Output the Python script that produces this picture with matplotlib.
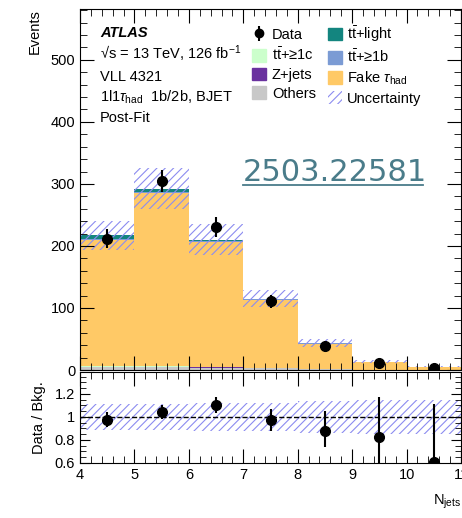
import numpy as np
import matplotlib
matplotlib.use('Agg')
import matplotlib.pyplot as plt
from matplotlib.patches import Patch
from matplotlib.ticker import MultipleLocator

plt.rcParams['font.family'] = ['Liberation Sans', 'DejaVu Sans']
plt.rcParams['mathtext.fontset'] = 'custom'
plt.rcParams['mathtext.rm'] = 'Liberation Sans'
plt.rcParams['mathtext.it'] = 'Liberation Sans:italic'
plt.rcParams['mathtext.bf'] = 'Liberation Sans:bold'
plt.rcParams['hatch.linewidth'] = 0.8

# N_jets bins
edges = [4, 5, 6, 7, 8, 9, 10, 11]
centers = [4.5, 5.5, 6.5, 7.5, 8.5, 9.5, 10.5]

# post-fit background stack (bottom -> top)
others = [5, 5, 4, 3, 1.5, 0.6, 0.3]
zjets = [0.5, 0.5, 0.4, 0.2, 0.1, 0.05, 0.02]
tt_1c = [0.5, 0.5, 0.3, 0.2, 0.1, 0.05, 0.02]
fake_tau = [204, 279, 201.5, 109.5, 41, 12.4, 4.5]
tt_1b = [1.5, 2.5, 1.3, 0.8, 0.3, 0.1, 0.05]
tt_light = [5.5, 5, 2.5, 1.3, 0.5, 0.3, 0.1]
bkg_unc = [24, 33, 25, 14, 6, 2, 0.8]

# data
data = [212, 305, 230, 111, 38, 11, 3]
data_err = [15, 18, 16, 10.5, 6, 3.5, 1.8]

# ratio panel
ratio = [0.975, 1.045, 1.10, 0.97, 0.88, 0.83, 0.61]
ratio_lo = [0.06, 0.06, 0.07, 0.09, 0.14, 0.30, 0.50]
ratio_hi = [0.07, 0.06, 0.07, 0.10, 0.17, 0.34, 0.50]
ratio_unc = [0.11, 0.11, 0.12, 0.12, 0.14, 0.15, 0.15]

tt = r'$\mathrm{t\bar{t}}$'
names = ['Others', 'Z+jets', tt + '+\u22651c', r'Fake $\tau_{\mathrm{had}}$',
         tt + '+\u22651b', tt + '+light']
colors = ['#c8c8c8', '#6a329f', '#ccffcc', '#ffc966', '#7b9bd4', '#13857f']
hatch_col = '#8c8cf0'

W, H = 462, 518
fig = plt.figure(figsize=(W / 100, H / 100), dpi=100)
ax = fig.add_axes([80 / W, 1 - 370 / H, 381 / W, 361 / H])
axr = fig.add_axes([80 / W, 1 - 463 / H, 381 / W, 91 / H])

comps = [others, zjets, tt_1c, fake_tau, tt_1b, tt_light]
ax.hist([centers] * len(comps), bins=edges, weights=comps, stacked=True,
        histtype='stepfilled', color=colors, linewidth=0)
total = np.sum(comps, axis=0)
ax.bar(centers, 2 * np.array(bkg_unc), bottom=total - np.array(bkg_unc), width=1,
       fill=False, hatch='////', edgecolor=hatch_col, linewidth=0)
ax.errorbar(centers, data, yerr=data_err, fmt='o', color='black', ms=7,
            elinewidth=1.5, capsize=0)

ax.set_xlim(4, 11)
ax.set_ylim(0, 582)
ax.set_ylabel('Events', loc='top', fontsize=10.5, labelpad=6)
ax.tick_params(labelbottom=False)

# ratio
axr.bar(centers, 2 * np.array(ratio_unc), bottom=1 - np.array(ratio_unc), width=1,
        fill=False, hatch='////', edgecolor=hatch_col, linewidth=0)
axr.axhline(1, color='black', ls='--', lw=1)
axr.errorbar(centers, ratio, yerr=[ratio_lo, ratio_hi], fmt='o', color='black',
             ms=7, elinewidth=1.5, capsize=0)
axr.set_xlim(4, 11)
axr.set_ylim(0.6, 1.39)
axr.set_yticks([0.6, 0.8, 1, 1.2])
axr.set_yticklabels(['0.6', '0.8', '1', '1.2'])
axr.set_ylabel('Data / Bkg.', fontsize=10.5, labelpad=6)
axr.set_xlabel(r'N$_{\mathrm{jets}}$', loc='right', fontsize=10.5, labelpad=8)

for a in (ax, axr):
    a.tick_params(which='both', direction='in', top=True, right=True, labelsize=10.5)
    a.tick_params(which='major', length=10)
    a.tick_params(which='minor', length=5)
    a.xaxis.set_major_locator(MultipleLocator(1))
    a.xaxis.set_minor_locator(MultipleLocator(0.2))
ax.yaxis.set_major_locator(MultipleLocator(100))
ax.yaxis.set_minor_locator(MultipleLocator(20))
axr.yaxis.set_minor_locator(MultipleLocator(0.05))
axr.tick_params(which='major', axis='y', length=7)
axr.tick_params(which='minor', axis='y', length=4)

# labels block
ax.text(0.052, 0.933, 'ATLAS', transform=ax.transAxes, fontsize=10.5,
        fontweight='bold', style='italic', va='center')
info = ['\u221as = 13 TeV, 126 fb$^{-1}$', 'VLL 4321',
        r'1l1$\tau_{\mathrm{had}}$  1b/2b, BJET', 'Post-Fit']
for t, yy in zip(info, [0.875, 0.812, 0.756, 0.698]):
    ax.text(0.052, yy, t, transform=ax.transAxes, fontsize=10.5, va='center')

# legend
data_h = ax.errorbar([], [], yerr=[], fmt='o', color='black', ms=6, elinewidth=1.5)
handles = [data_h,
           Patch(color=colors[2]), Patch(color=colors[1]), Patch(color=colors[0]),
           Patch(color=colors[5]), Patch(color=colors[4]), Patch(color=colors[3]),
           Patch(facecolor='none', hatch='////', edgecolor=hatch_col, linewidth=0)]
labels = ['Data', names[2], names[1], names[0],
          names[5], names[4], names[3], 'Uncertainty']
ax.legend(handles, labels, ncol=2, frameon=False, fontsize=10.5,
          loc='upper left', bbox_to_anchor=((245 - 80) / 381, (370 - 17) / 361),
          handlelength=0.95, handleheight=0.95, handletextpad=0.4,
          labelspacing=0.3, columnspacing=0.8, borderpad=0)

# arXiv stamp
ax.text((243 - 80) / 381, (370 - 181) / 361, '2503.22581', transform=ax.transAxes,
        fontsize=22, color='#4a7c8a', va='baseline', ha='left',
        family=['DejaVu Sans'])
ax.plot([(243 - 80) / 381, (423 - 80) / 381], [(370 - 185) / 361] * 2,
        transform=ax.transAxes, color='#4a7c8a', lw=1.3)

fig.savefig('out.png', dpi=100)
